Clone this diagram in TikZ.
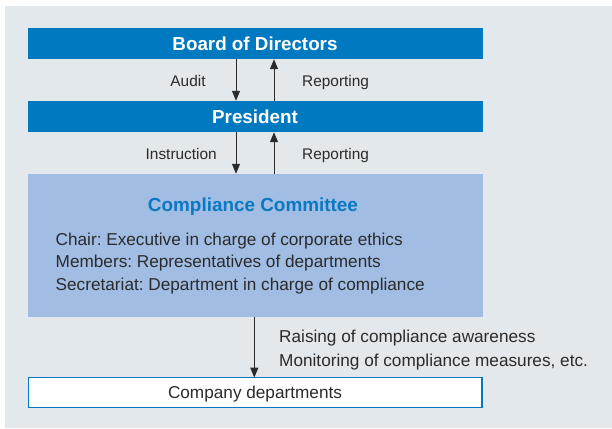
\documentclass[tikz,border=0pt]{standalone}
\usepackage{fontspec}
\setmainfont{Liberation Sans}
\usetikzlibrary{arrows.meta}
\frenchspacing
\definecolor{bgc}{HTML}{E3E8EC}
\definecolor{bluebar}{HTML}{0079C1}
\definecolor{ccfill}{HTML}{A1BDE3}
\definecolor{titleblue}{HTML}{0A79C2}
\definecolor{ink}{HTML}{2B2B2B}
\tikzset{
  bar/.style={fill=bluebar, draw=none, minimum width=455pt, minimum height=31pt, inner sep=0pt,
    text=white, font=\fontsize{18.8}{22}\selectfont\bfseries, text height=13.5pt, text depth=0pt},
  ccbox/.style={fill=ccfill, draw=none, minimum width=455pt, minimum height=143pt, inner sep=0pt},
  deptbox/.style={fill=white, draw=bluebar, line width=1.3pt, minimum width=453.7pt, minimum height=29.7pt, inner sep=0pt,
    text=ink, font=\fontsize{17.2}{20}\selectfont, text height=12.3pt, text depth=0pt},
  lbl/.style={inner sep=0pt, text=ink, font=\fontsize{17.2}{20}\selectfont},
  arrlbl/.style={inner sep=0pt, text=ink, font=\fontsize{15.4}{18}\selectfont},
  ttl/.style={inner sep=0pt, text=titleblue, font=\fontsize{18.9}{22}\selectfont\bfseries},
  arr/.style={draw=ink, line width=1pt, -{Triangle[width=8pt,length=10pt]}},
}
\begin{document}
\begin{tikzpicture}[x=1pt,y=-1pt]
\useasboundingbox (0,0) rectangle (612,428);
\fill[bgc] (5,6) rectangle (612,428);

\node[bar] (board) at (255,43.5) {Board of Directors};
\node[bar] (pres) at (255,116.5) {President};
\node[ccbox] (cc) at (255,245.5) {};
\node[deptbox] (dept) at (255,392.5) {Company departments};

\node[ttl, anchor=base] (cctitle) at (253,211.7) {Compliance Committee};
\node[lbl, anchor=base west] (chair) at (55.5,245) {Chair: Executive in charge of corporate ethics};
\node[lbl, anchor=base west] (members) at (55.5,267.5) {Members: Representatives of departments};
\node[lbl, anchor=base west] (secr) at (55.5,290) {Secretariat: Department in charge of compliance};

\draw[arr] ([xshift=-19pt]board.south) -- ([xshift=-19pt]pres.north);
\draw[arr] ([xshift=19pt]pres.north) -- ([xshift=19pt]board.south);
\draw[arr] ([xshift=-19pt]pres.south) -- ([xshift=-19pt]cc.north);
\draw[arr] ([xshift=19pt]cc.north) -- ([xshift=19pt]pres.south);
\draw[arr] ([xshift=-0.7pt]cc.south) -- ([xshift=-0.7pt,yshift=-0.6pt]dept.north);

\node[arrlbl, anchor=base] (audit) at (188,86.7) {Audit};
\node[arrlbl, anchor=base west] (rep1) at (302,86.7) {Reporting};
\node[arrlbl, anchor=base] (instr) at (181.2,159.3) {Instruction};
\node[arrlbl, anchor=base west] (rep2) at (302,159.3) {Reporting};

\node[lbl, anchor=base west] (raise) at (279,342.7) {Raising of compliance awareness};
\node[lbl, anchor=base west] (monit) at (279,366) {Monitoring of compliance measures, etc.};
\end{tikzpicture}
\end{document}
